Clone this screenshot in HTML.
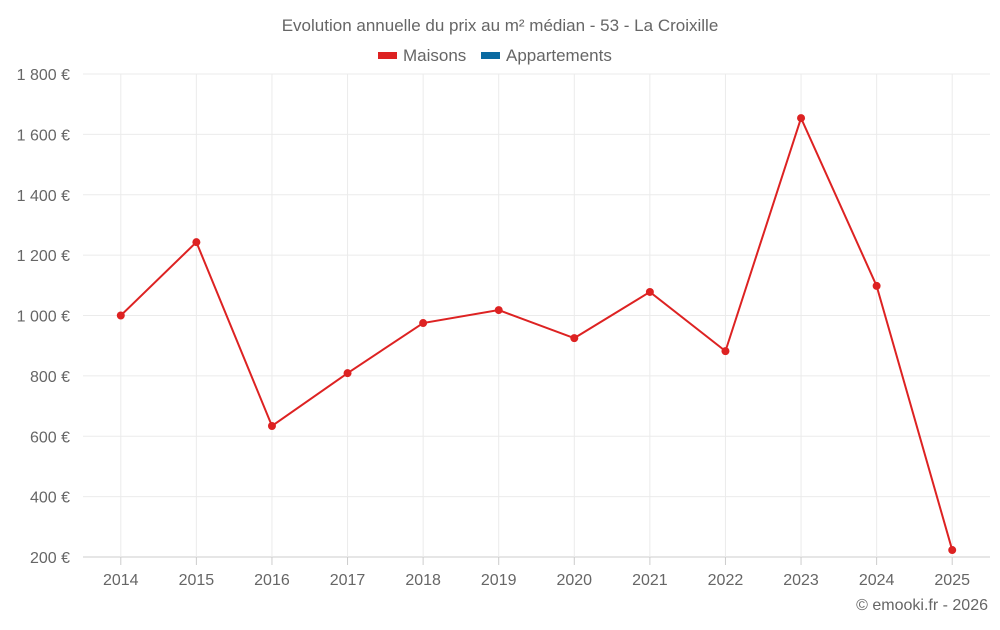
<!DOCTYPE html>
<html><head><meta charset="utf-8"><style>
body{margin:0;background:#fff;font-family:"Liberation Sans",sans-serif;}
svg text{font-family:"Liberation Sans",sans-serif;fill:#666;}
</style></head><body>
<svg id="chart" width="1000" height="625">
<text x="500" y="31" text-anchor="middle" font-size="17">Evolution annuelle du prix au m² médian - 53 - La Croixille</text>
<g>
<g><rect x="378" y="52" width="19" height="7" fill="#dd2222"/><text x="403" y="61" font-size="17">Maisons</text></g>
<g><rect x="481" y="52" width="19" height="7" fill="#0a6aa1"/><text x="506" y="61" font-size="17">Appartements</text></g>
</g>
<g id="grid"></g><g id="axes"></g><g id="series"></g>
<text x="988" y="610" text-anchor="end" font-size="16">© emooki.fr - 2026</text>
</svg>
<script>
const categories=["2014","2015","2016","2017","2018","2019","2020","2021","2022","2023","2024","2025"];
const maisons=[1000,1243,634,809,975,1018,925,1078,882,1654,1098,223];
const yTicks=[200,400,600,800,1000,1200,1400,1600,1800];
const yTickLabels=["200 €","400 €","600 €","800 €","1 000 €","1 200 €","1 400 €","1 600 €","1 800 €"];
const L=83,R=990,T=74,B=557,ymin=200,ymax=1800;
const ns="http://www.w3.org/2000/svg";
const band=(R-L)/categories.length;
const x=i=>L+band*(i+0.5);
const y=v=>B-(v-ymin)/(ymax-ymin)*(B-T);
function mk(tag,attrs,parent){const e=document.createElementNS(ns,tag);for(const k in attrs)e.setAttribute(k,attrs[k]);document.getElementById(parent).appendChild(e);return e;}
yTicks.forEach((v,i)=>{
 const g=mk("line",{x1:L,x2:R,y1:y(v),y2:y(v),stroke:v===ymin?"#ccc":"#ebebeb"},"grid");
 
 
 const t=mk("text",{x:70,y:y(v)+6,"text-anchor":"end","font-size":"16"},"axes");
 t.textContent=yTickLabels[i];
 
 
});
categories.forEach((c,i)=>{
 const g=mk("line",{x1:x(i),x2:x(i),y1:T,y2:B,stroke:"#ebebeb"},"grid");
 
 
 const tk=mk("line",{x1:x(i),x2:x(i),y1:B,y2:B+8,stroke:"#ccc"},"axes");
 
 
 const t=mk("text",{x:x(i),y:585,"text-anchor":"middle","font-size":"16"},"axes");
 t.textContent=c;
 
 
});
const ln=mk("polyline",{points:maisons.map((v,i)=>x(i)+","+y(v)).join(" "),fill:"none",stroke:"#dd2222","stroke-width":2},"series");


maisons.forEach((v,i)=>{
 const p=mk("circle",{cx:x(i),cy:y(v),r:4,fill:"#dd2222"},"series");
 
 
});
</script>
</body></html>
